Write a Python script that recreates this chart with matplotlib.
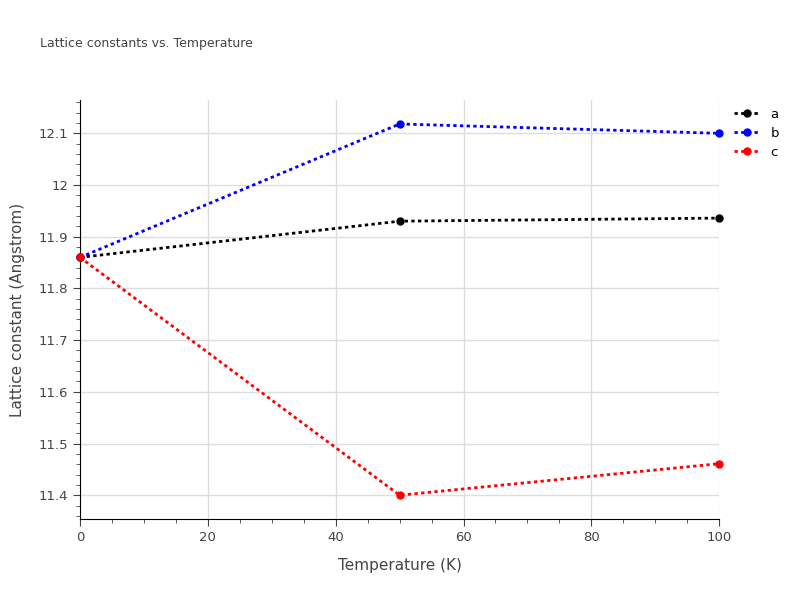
import matplotlib
matplotlib.use("Agg")
import matplotlib.pyplot as plt
from matplotlib.ticker import MultipleLocator

temps = [0, 50, 100]
a_vals = [11.86, 11.93, 11.936]
b_vals = [11.86, 12.118, 12.1]
c_vals = [11.86, 11.40, 11.461]
series = [("a", a_vals, "black"), ("b", b_vals, "blue"), ("c", c_vals, "red")]

fig = plt.figure(figsize=(8, 6), dpi=100)
ax = fig.add_axes([0.1, 0.135, 0.799, 0.698])
for name, vals, col in series:
    ax.plot(temps, vals, linestyle=(0, (1.2, 1.2)), color=col, lw=2, marker="o", ms=5, label=name, clip_on=False, zorder=3)

ax.set_xlim(0, 100)
ax.set_ylim(11.354, 12.164)
ax.set_xticks([0, 20, 40, 60, 80, 100])
ax.set_yticks([11.4, 11.5, 11.6, 11.7, 11.8, 11.9, 12.0, 12.1])
ax.set_yticklabels(["11.4", "11.5", "11.6", "11.7", "11.8", "11.9", "12", "12.1"])
ax.xaxis.set_minor_locator(MultipleLocator(5))
ax.yaxis.set_minor_locator(MultipleLocator(0.02))
ax.grid(True, color="#dddddd", lw=1)
ax.set_axisbelow(True)
for s in ["top", "right"]:
    ax.spines[s].set_visible(False)
for s in ["left", "bottom"]:
    ax.spines[s].set_color("black")
ax.tick_params(colors="#444444", labelsize=9.5, length=5)
ax.tick_params(which="minor", length=3, color="#444444")
ax.set_xlabel("Temperature (K)", fontsize=11, color="#444444", labelpad=10)
ax.set_ylabel("Lattice constant (Angstrom)", fontsize=11, color="#444444", labelpad=10)
fig.text(0.05, 0.922, "Lattice constants vs. Temperature", fontsize=9, color="#444444")
ax.legend(loc="upper left", bbox_to_anchor=(1.01, 1.0), frameon=False, fontsize=9.5,
          handlelength=2, labelspacing=0.45, borderaxespad=0.2)
fig.savefig("out.png")
